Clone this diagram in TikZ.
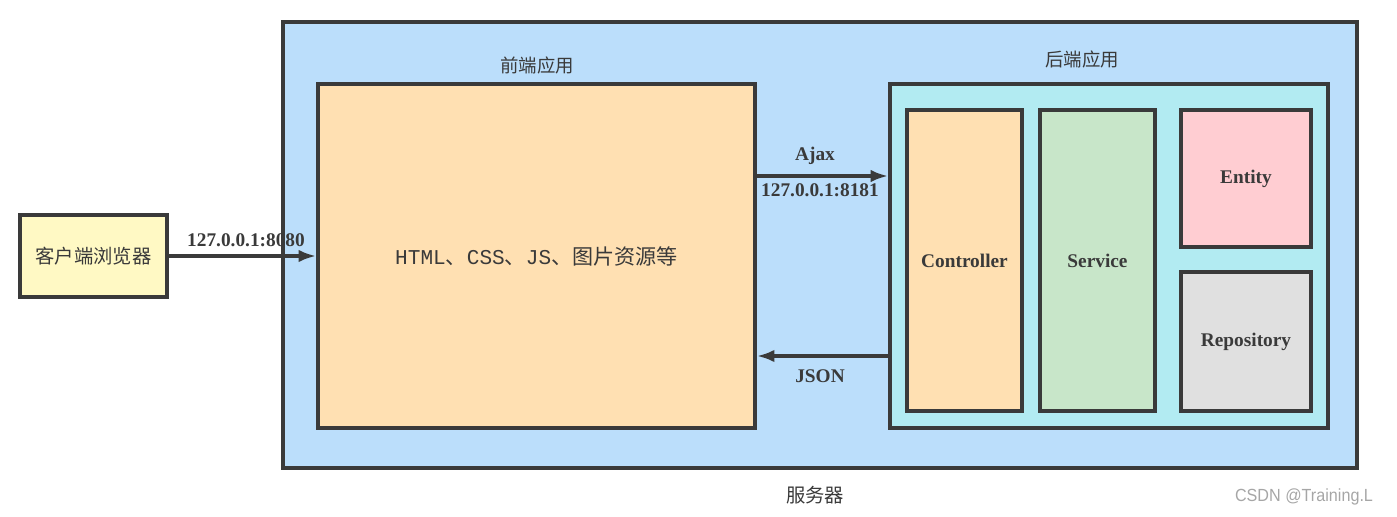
\documentclass[tikz,border=0pt]{standalone}
\usepackage{fontspec}
\setmainfont{Liberation Serif}
\newfontfamily\cjk{Noto Sans CJK SC}
\newfontfamily\mono{Liberation Mono}
\newfontfamily\wmark{Liberation Sans}
\usetikzlibrary{arrows.meta}
\definecolor{edge}{HTML}{3A3A3A}
\definecolor{browser}{HTML}{FFF9C4}
\definecolor{server}{HTML}{BBDEFB}
\definecolor{peach}{HTML}{FFE0B2}
\definecolor{aqua}{HTML}{B2EBF2}
\definecolor{mint}{HTML}{C8E6C9}
\definecolor{rose}{HTML}{FFCDD2}
\definecolor{stone}{HTML}{E0E0E0}
\begin{document}
\begin{tikzpicture}[x=0.02cm,y=-0.02cm,
    box/.style={draw=edge,line width=2pt,inner sep=0pt,text=edge,font=\bfseries\fontsize{11}{13}\selectfont},
    arr/.style={draw=edge,line width=2pt,-{Latex[length=10pt,width=7pt]}},
    lbl/.style={text=edge,font=\bfseries\fontsize{11}{13}\selectfont},
    title/.style={text=edge,font=\cjk\fontsize{10.5}{12}\selectfont}]
    \useasboundingbox (0,0) rectangle (1397,517);
    \node[box,fill=server,minimum width=21.48cm,minimum height=8.92cm] (srv) at (820,245) {};
    \node[title,font=\cjk\fontsize{11}{13}\selectfont] (srvname) at (815,495) {服务器};
    \node[box,fill=browser,minimum width=2.94cm,minimum height=1.64cm,font=\cjk\fontsize{11}{13}\selectfont] (client) at (93.5,256) {客户端浏览器};
    \node[box,fill=peach,minimum width=8.74cm,minimum height=6.88cm,font=\fontsize{12}{14}\selectfont] (front) at (536.5,256)
        {\mono HTML\cjk 、\mono CSS\cjk 、\mono JS\cjk 、图片资源等};
    \node[title] (frontname) at (537,65) {前端应用};
    \node[box,fill=aqua,minimum width=8.76cm,minimum height=6.88cm] (back) at (1109,256) {};
    \node[title] (backname) at (1082,59) {后端应用};
    \foreach \n/\t/\c/\x/\y/\w/\h in
        { ctrl/Controller/peach/964.5/260.5/2.3/6.02
        , svc/Service/mint/1097.5/260.5/2.3/6.02
        , ent/Entity/rose/1246/178.5/2.6/2.74
        , repo/Repository/stone/1246/341.5/2.6/2.78
        }
    {\node[box,fill=\c,minimum width=\w cm,minimum height=\h cm] (\n) at (\x,\y) {\t};}
    \draw[arr] (client.east) -- (front.west);
    \node[lbl] (porta) at (246,240) {127.0.0.1:8080};
    \draw[arr] (front.east |- 0,176) -- (back.west |- 0,176);
    \node[lbl] (ajax) at (815,156) {Ajax};
    \node[lbl] (portb) at (820,190) {127.0.0.1:8181};
    \draw[arr] (back.west |- 0,356) -- (front.east |- 0,356);
    \node[lbl] (json) at (820,376) {JSON};
    \node[text=gray!70,font=\wmark\fontsize{10}{12}\selectfont] (mark) at (1304,497) {\scalebox{0.92}[1]{CSDN @Training.L}};
\end{tikzpicture}
\end{document}
